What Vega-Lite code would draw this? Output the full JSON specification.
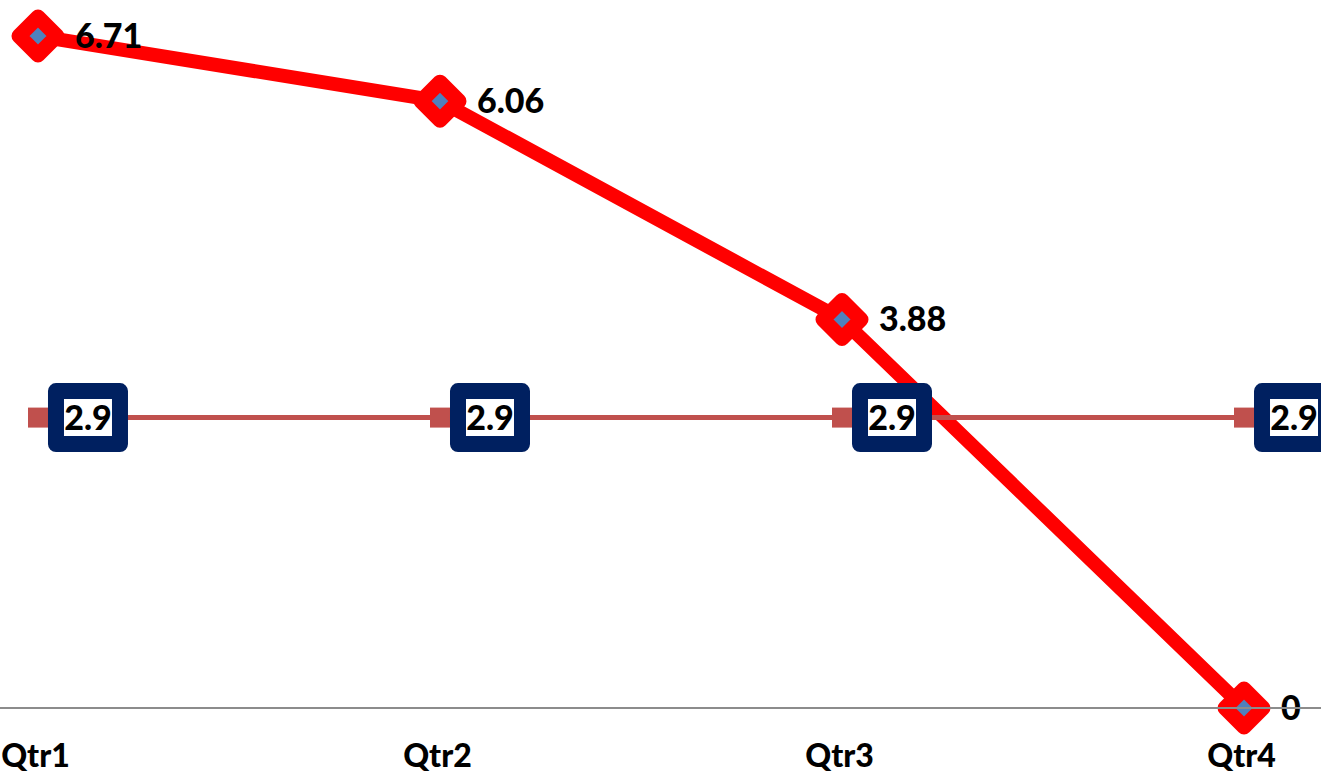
{
  "$schema": "https://vega.github.io/schema/vega-lite/v6.json",
  "width": 1321,
  "height": 708,
  "autosize": {"type": "none"},
  "padding": {"left": 0, "top": 0, "right": 0, "bottom": 66},
  "background": "white",
  "config": {"view": {"stroke": null}},
  "data": {
    "values": [
      {"q": "Qtr1", "s": "red", "v": 6.71},
      {"q": "Qtr2", "s": "red", "v": 6.06},
      {"q": "Qtr3", "s": "red", "v": 3.88},
      {"q": "Qtr4", "s": "red", "v": 0},
      {"q": "Qtr1", "s": "flat", "v": 2.9},
      {"q": "Qtr2", "s": "flat", "v": 2.9},
      {"q": "Qtr3", "s": "flat", "v": 2.9},
      {"q": "Qtr4", "s": "flat", "v": 2.9}
    ]
  },
  "encoding": {
    "x": {
      "field": "q", "type": "ordinal",
      "scale": {"type": "point", "padding": 0.143, "align": 0.3304},
      "axis": {"title": null, "domain": false, "ticks": false, "grid": false, "labelAngle": 0,
        "labelFont": "Lato", "labelFontWeight": 900, "labelFontSize": 32, "labelColor": "black",
        "labelPadding": 33, "labelOffset": -3, "labelOverlap": false, "labelBound": false}
    },
    "y": {"field": "v", "type": "quantitative", "scale": {"domain": [0, 7.07], "nice": false, "zero": true}, "axis": null}
  },
  "layer": [
    {
      "transform": [{"filter": "datum.s === 'red'"}],
      "mark": {"type": "line", "color": "#FF0000", "strokeWidth": 14, "strokeJoin": "round"}
    },
    {
      "transform": [{"filter": "datum.s === 'red'"}],
      "mark": {"type": "point", "shape": "diamond", "filled": true, "fill": "#4F81BD", "stroke": "#FF0000", "strokeWidth": 15, "strokeJoin": "round", "size": 1444, "opacity": 1}
    },
    {
      "transform": [{"filter": "datum.s === 'red'"}],
      "mark": {"type": "text", "align": "left", "baseline": "middle", "dx": 37, "dy": 2, "font": "Lato", "fontWeight": 900, "fontSize": 34, "color": "black"},
      "encoding": {
        "text": {"field": "v", "type": "quantitative", "format": ".3~f"}
      }
    },
    {
      "transform": [{"filter": "datum.s === 'flat'"}],
      "mark": {"type": "line", "color": "#C0504D", "strokeWidth": 5}
    },
    {
      "transform": [{"filter": "datum.s === 'flat'"}],
      "mark": {"type": "point", "shape": "square", "filled": true, "color": "#C0504D", "size": 400, "opacity": 1}
    },
    {
      "transform": [{"filter": "datum.s === 'flat'"}],
      "mark": {"type": "point", "shape": "M-1.2075,-1H1.2075V1H-1.2075Z", "filled": true, "fill": "white", "stroke": "#002060", "strokeWidth": 16, "strokeJoin": "round", "size": 2809, "xOffset": 50, "opacity": 1}
    },
    {
      "transform": [{"filter": "datum.s === 'flat'"}],
      "mark": {"type": "text", "align": "center", "baseline": "middle", "dx": 50, "dy": 2, "font": "Lato", "fontWeight": 900, "fontSize": 34, "color": "black"},
      "encoding": {
        "text": {"field": "v", "type": "quantitative", "format": ".1f"}
      }
    },
    {
      "mark": {"type": "rule", "color": "#8c8c8c", "strokeWidth": 1.5},
      "encoding": {"x": null, "y": {"datum": 0, "type": "quantitative"}}
    }
  ]
}
